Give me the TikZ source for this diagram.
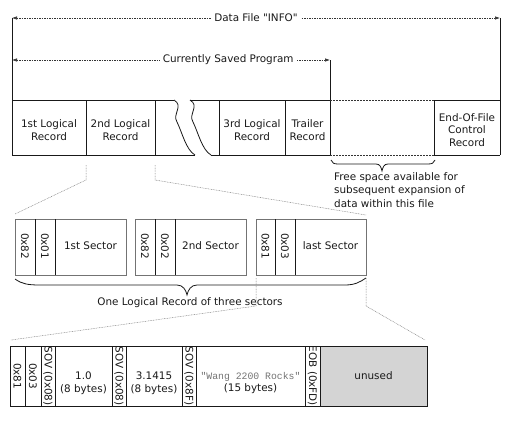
\documentclass[tikz,border=0pt]{standalone}
\usepackage{fontspec}
\setmainfont{DejaVu Sans}[Ligatures=TeXOff]
\setmonofont{Liberation Mono}
\usetikzlibrary{arrows.meta}
\begin{document}
\begin{tikzpicture}[x=1pt,y=-1pt,
  font=\fontsize{10.4}{12.5}\selectfont,
  box/.style={draw=black!90, line width=0.8pt},
  freedash/.style={draw=black!80, line width=0.8pt, dash pattern=on 2pt off 1pt},
  sectbox/.style={draw=black!55, line width=0.9pt},
  divline/.style={draw=black!90, line width=0.8pt},
  dim/.style={draw=black!80, line width=0.6pt, dash pattern=on 1.5pt off 1pt,
    {Latex[length=5pt,width=3.5pt]}-{Latex[length=5pt,width=3.5pt]}},
  zoomline/.style={draw=black!50, line width=0.5pt, dash pattern=on 0.8pt off 0.8pt},
  bracepath/.style={draw=black!90, line width=0.8pt},
  lbl/.style={align=center, inner sep=0pt, text=black!90},
  rot/.style={rotate=-90, inner sep=0pt, text=black!90},
  cut/.style={draw=black!90, line width=0.8pt},
]
\useasboundingbox (0,0) rectangle (510,420);

% ---------- top dimension arrows ----------
\coordinate (dfl) at (12,18);
\coordinate (dfr) at (500,18);
\draw[dim] (dfl) -- node[fill=white, inner xsep=3pt, inner ysep=1pt, pos=0.5, text=black!90] (dft) {Data File "INFO"} (dfr);
\coordinate (csl) at (12,60);
\coordinate (csr) at (330,60);
\draw[dim] (csl) -- node[fill=white, inner xsep=3pt, inner ysep=1pt, pos=0.68, text=black!90] (cst) {Currently Saved Program} (csr);

% ---------- main row ----------
\draw[box] (dfl) -- (12,155);
\draw[box] (dfr) -- (500,155);
\draw[box] (csr) -- (330,155);
\draw[box] (12,100) -- (174,100) (190,100) -- (330,100) (434,100) -- (500,100);
\draw[box] (12,155) -- (195,155) (211,155) -- (330,155) (434,155) -- (500,155);
\draw[freedash] (330,100) -- (434,100) (330,155) -- (434,155);
\foreach \x in {86,155,219,285,434} \draw[box] (\x,100) -- (\x,155);
\foreach \s in {0,16}
  \draw[cut, shift={(\s,0)}] (174,100) .. controls (184,106) and (172,114) .. (177,122)
     .. controls (182,132) and (186,150) .. (195,155);

\node[lbl] (r1) at (49,130) {1st Logical\\Record};
\node[lbl] (r2) at (120.5,130) {2nd Logical\\Record};
\node[lbl] (r3) at (252,130) {3rd Logical\\Record};
\node[lbl] (tr) at (307.5,130) {Trailer\\Record};
\node[lbl] (eof) at (467,130) {End-Of-File\\Control\\Record};

% free space brace and text
\draw[bracepath] (331,160) .. controls (332,163) and (334,164) .. (338,164) -- (376,164)
  .. controls (380,164) and (381,167) .. (382,171) .. controls (383,167) and (384,164) .. (388,164)
  -- (428,164) .. controls (432,164) and (434,163) .. (435,160);
\node[anchor=north west, align=left, inner sep=0pt, text=black!90,
  font=\fontsize{10.4}{13.5}\selectfont] (fs) at (334,172)
  {Free space available for\\subsequent expansion of\\data within this file};

% ---------- zoom lines main -> sectors ----------
\coordinate (za1) at (86,165); \coordinate (za2) at (86,180); \coordinate (za3) at (15,214);
\coordinate (zb1) at (155,165); \coordinate (zb2) at (155,180); \coordinate (zb3) at (366,215);
\draw[zoomline] (za1) -- (za2) -- (za3);
\draw[zoomline] (zb1) -- (zb2) -- (zb3);

% ---------- sectors ----------
\draw[sectbox] (15,219) rectangle (126,275);
\draw[divline] (35,219) -- (35,275) (55,219) -- (55,275);
\node[rot] (s1a) at (25,246) {0x82};
\node[rot] (s1b) at (45,246) {0x01};
\node[lbl] (s1c) at (90.5,246) {1st Sector};

\draw[sectbox] (135,219) rectangle (246,275);
\draw[divline] (155,219) -- (155,275) (175,219) -- (175,275);
\node[rot] (s2a) at (145,246) {0x82};
\node[rot] (s2b) at (165,246) {0x02};
\node[lbl] (s2c) at (210.5,246) {2nd Sector};

\draw[sectbox] (256,219) rectangle (366,275);
\draw[divline] (275,219) -- (275,275) (295,219) -- (295,275);
\node[rot] (s3a) at (265.5,246) {0x81};
\node[rot] (s3b) at (285,246) {0x03};
\node[lbl] (s3c) at (330.5,246) {last Sector};

% sector brace
\draw[bracepath] (15,279) .. controls (22,284) and (28,285) .. (40,285) -- (177,285)
  .. controls (183,285) and (186,290) .. (187,295) .. controls (188,290) and (191,285) .. (197,285)
  -- (345,285) .. controls (355,285) and (360,282) .. (366,278);
\node[lbl] (lr) at (190,303) {One Logical Record of three sectors};

% ---------- zoom lines sectors -> bytes ----------
\coordinate (zc1) at (256,278); \coordinate (zc2) at (256,306); \coordinate (zc3) at (11,340);
\coordinate (zd1) at (366,278); \coordinate (zd2) at (366,306); \coordinate (zd3) at (425,340);
\draw[zoomline] (zc1) -- (zc2) -- (zc3);
\draw[zoomline] (zd1) -- (zd2) -- (zd3);

% ---------- bytes row ----------
\fill[black!17] (320,346) rectangle (427,406);
\draw[box] (10,346) rectangle (427,406);
\foreach \x in {25,41,55,112,126,182,196,305,320} \draw[divline] (\x,346) -- (\x,406);
\node[rot] (b1) at (17.5,376) {0x81};
\node[rot] (b2) at (33,376) {0x03};
\node[rot] (b3) at (48,376) {SOV (0x08)};
\node[lbl] (b4) at (83.5,383) {1.0\\(8 bytes)};
\node[rot] (b5) at (119,376) {SOV (0x08)};
\node[lbl] (b6) at (154,383) {3.1415\\(8 bytes)};
\node[rot] (b7) at (189,376) {SOV (0x8F)};
\node[lbl] (b8) at (250.5,383) {{\ttfamily\fontsize{9.8}{12.5}\selectfont\color{black!55}"Wang 2200 Rocks"}\\(15 bytes)};
\node[rot] (b9) at (312.5,376) {EOB (0xFD)};
\node[lbl] (b10) at (373.5,376) {unused};
\end{tikzpicture}
\end{document}
